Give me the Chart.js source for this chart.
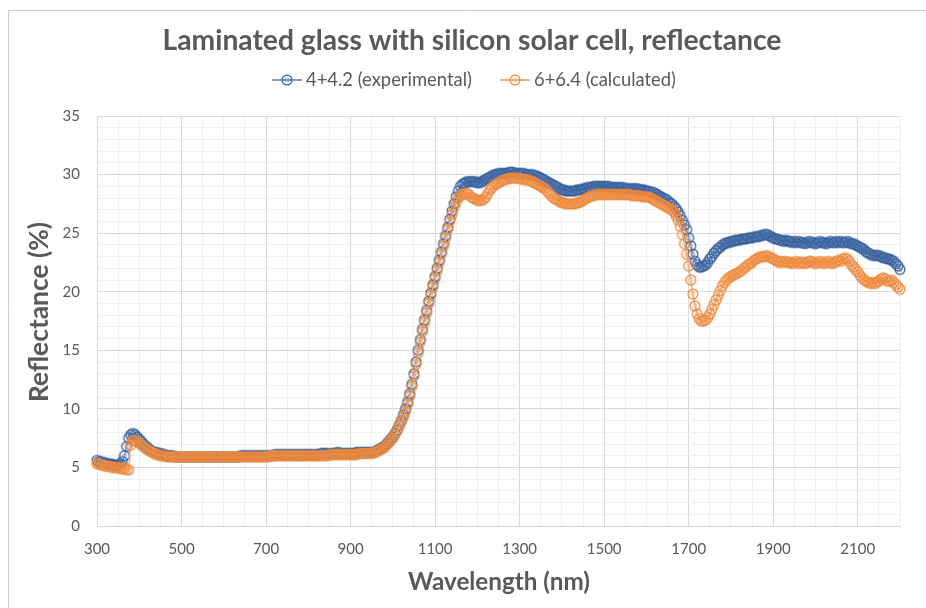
<!DOCTYPE html>
<html><head><meta charset="utf-8">
<script src="https://cdn.jsdelivr.net/npm/chart.js@4.4.1/dist/chart.umd.min.js"></script>
<style>html,body{margin:0;padding:0;background:#fff;}#wrap{width:926px;height:608px;}</style>
</head><body><div id="wrap"><canvas id="c" width="926" height="608"></canvas></div>
<script>
const chartTitle = 'Laminated glass with silicon solar cell, reflectance';
const xAxisTitle = 'Wavelength (nm)';
const yAxisTitle = 'Reflectance (%)';
const seriesNames = ['4+4.2 (experimental)', '6+6.4 (calculated)'];
const xTickLabels = [300, 500, 700, 900, 1100, 1300, 1500, 1700, 1900, 2100];
const yTickLabels = [0, 5, 10, 15, 20, 25, 30, 35];

const wavelengths = [
300,305,310,315,320,325,330,335,340,345,350,355,360,365,370,375,380,385,390,395,
400,405,410,415,420,425,430,435,440,445,450,455,460,465,470,475,480,485,490,495,
500,505,510,515,520,525,530,535,540,545,550,555,560,565,570,575,580,585,590,595,
600,605,610,615,620,625,630,635,640,645,650,655,660,665,670,675,680,685,690,695,
700,705,710,715,720,725,730,735,740,745,750,755,760,765,770,775,780,785,790,795,
800,805,810,815,820,825,830,835,840,845,850,855,860,865,870,875,880,885,890,895,
900,905,910,915,920,925,930,935,940,945,950,955,960,965,970,975,980,985,990,995,
1000,1005,1010,1015,1020,1025,1030,1035,1040,1045,1050,1055,1060,1065,1070,1075,1080,1085,1090,1095,
1100,1105,1110,1115,1120,1125,1130,1135,1140,1145,1150,1155,1160,1165,1170,1175,1180,1185,1190,1195,
1200,1205,1210,1215,1220,1225,1230,1235,1240,1245,1250,1255,1260,1265,1270,1275,1280,1285,1290,1295,
1300,1305,1310,1315,1320,1325,1330,1335,1340,1345,1350,1355,1360,1365,1370,1375,1380,1385,1390,1395,
1400,1405,1410,1415,1420,1425,1430,1435,1440,1445,1450,1455,1460,1465,1470,1475,1480,1485,1490,1495,
1500,1505,1510,1515,1520,1525,1530,1535,1540,1545,1550,1555,1560,1565,1570,1575,1580,1585,1590,1595,
1600,1605,1610,1615,1620,1625,1630,1635,1640,1645,1650,1655,1660,1665,1670,1675,1680,1685,1690,1695,
1700,1705,1710,1715,1720,1725,1730,1735,1740,1745,1750,1755,1760,1765,1770,1775,1780,1785,1790,1795,
1800,1805,1810,1815,1820,1825,1830,1835,1840,1845,1850,1855,1860,1865,1870,1875,1880,1885,1890,1895,
1900,1905,1910,1915,1920,1925,1930,1935,1940,1945,1950,1955,1960,1965,1970,1975,1980,1985,1990,1995,
2000,2005,2010,2015,2020,2025,2030,2035,2040,2045,2050,2055,2060,2065,2070,2075,2080,2085,2090,2095,
2100,2105,2110,2115,2120,2125,2130,2135,2140,2145,2150,2155,2160,2165,2170,2175,2180,2185,2190,2195,
2200];

const experimental = [
5.6,5.5,5.5,5.4,5.4,5.3,5.3,5.3,5.2,5.2,5.2,5.3,5.5,6.0,6.8,7.5,7.8,7.9,7.8,7.6,
7.4,7.2,7.0,6.8,6.7,6.5,6.4,6.3,6.3,6.2,6.2,6.1,6.1,6.0,6.0,6.0,6.0,5.9,5.9,5.9,
5.9,5.9,5.9,5.9,5.9,5.9,5.9,5.9,5.9,5.9,5.9,5.9,5.9,5.9,5.9,5.9,5.9,5.9,5.9,5.9,
5.9,5.9,5.9,5.9,5.9,5.9,5.9,5.9,6.0,6.0,6.0,6.0,6.0,6.0,6.0,6.0,6.0,6.0,6.0,6.0,
6.0,6.0,6.0,6.0,6.1,6.1,6.1,6.1,6.1,6.1,6.1,6.1,6.1,6.1,6.1,6.1,6.1,6.1,6.1,6.1,
6.1,6.1,6.1,6.1,6.1,6.1,6.2,6.2,6.2,6.2,6.1,6.2,6.2,6.2,6.3,6.2,6.2,6.2,6.2,6.2,
6.2,6.2,6.2,6.3,6.3,6.3,6.3,6.3,6.3,6.3,6.3,6.3,6.4,6.5,6.6,6.7,6.8,7.0,7.2,7.4,
7.6,7.9,8.2,8.6,9.0,9.5,10.0,10.6,11.3,12.1,13.0,14.0,15.0,15.9,16.8,17.6,18.4,19.2,19.9,20.6,
21.3,22.0,22.7,23.4,24.1,24.8,25.5,26.2,26.9,27.5,28.1,28.6,29.0,29.2,29.3,29.4,29.4,29.4,29.4,29.4,
29.3,29.3,29.4,29.5,29.6,29.7,29.8,29.9,30.0,30.0,30.1,30.1,30.1,30.1,30.1,30.2,30.2,30.2,30.1,30.1,
30.1,30.1,30.1,30.0,30.0,30.0,30.0,29.9,29.9,29.8,29.7,29.6,29.5,29.4,29.3,29.2,29.1,29.0,28.9,28.8,
28.7,28.7,28.6,28.6,28.6,28.6,28.6,28.7,28.7,28.7,28.8,28.8,28.9,28.9,28.9,29.0,29.0,29.0,29.0,29.0,
29.0,29.0,29.0,28.9,28.9,28.9,28.9,28.9,28.9,28.9,28.8,28.8,28.8,28.8,28.8,28.8,28.8,28.7,28.7,28.7,
28.6,28.6,28.5,28.5,28.4,28.3,28.2,28.1,28.0,27.9,27.8,27.6,27.5,27.3,27.1,26.8,26.5,26.1,25.7,25.3,
24.6,23.9,23.2,22.6,22.3,22.1,22.1,22.2,22.3,22.5,22.8,23.0,23.3,23.5,23.7,23.8,24.0,24.1,24.2,24.2,
24.3,24.3,24.4,24.4,24.4,24.5,24.5,24.5,24.6,24.6,24.6,24.7,24.7,24.7,24.8,24.8,24.9,24.9,24.8,24.7,
24.6,24.5,24.5,24.4,24.4,24.3,24.4,24.3,24.3,24.2,24.3,24.2,24.3,24.2,24.2,24.1,24.2,24.3,24.2,24.2,
24.1,24.2,24.3,24.2,24.2,24.1,24.2,24.3,24.2,24.2,24.3,24.2,24.3,24.2,24.2,24.3,24.2,24.1,24.1,24.0,
23.9,23.8,23.7,23.6,23.4,23.3,23.2,23.1,23.1,23.1,23.1,23.0,22.9,22.9,22.8,22.8,22.7,22.6,22.4,22.2,
21.9];

const calculated = [
5.3,5.3,5.2,5.2,5.1,5.1,5.1,5.0,5.0,5.0,5.0,4.9,4.9,4.9,4.8,4.8,6.9,7.3,7.3,7.2,
7.1,6.9,6.8,6.6,6.5,6.4,6.3,6.2,6.1,6.1,6.0,6.0,6.0,5.9,5.9,5.9,5.9,5.9,5.9,5.9,
5.9,5.9,5.9,5.9,5.9,5.9,5.9,5.9,5.9,5.9,5.9,5.9,5.9,5.9,5.9,5.9,5.9,5.9,5.9,5.9,
5.9,5.9,5.9,5.9,5.9,5.9,5.9,5.9,5.9,5.9,5.9,5.9,5.9,5.9,5.9,5.9,5.9,5.9,5.9,5.9,
5.9,5.9,6.0,6.0,6.0,6.0,6.0,6.0,6.0,6.0,6.0,6.0,6.0,6.0,6.0,6.0,6.0,6.0,6.0,6.0,
6.0,6.0,6.0,6.0,6.0,6.0,6.0,6.0,6.0,6.0,6.1,6.1,6.1,6.1,6.1,6.1,6.1,6.1,6.1,6.1,
6.1,6.1,6.1,6.1,6.2,6.2,6.2,6.2,6.2,6.2,6.2,6.3,6.3,6.4,6.5,6.6,6.7,6.9,7.1,7.3,
7.5,7.8,8.1,8.5,8.9,9.3,9.8,10.4,11.1,11.9,12.8,13.8,14.8,15.7,16.6,17.4,18.2,19.0,19.7,20.4,
21.1,21.8,22.5,23.2,23.9,24.6,25.3,26.0,26.6,27.2,27.6,28.0,28.2,28.3,28.4,28.4,28.3,28.1,28.0,27.9,
27.8,27.8,27.8,27.9,28.1,28.4,28.7,28.9,29.1,29.2,29.3,29.4,29.5,29.6,29.6,29.7,29.7,29.7,29.7,29.7,
29.7,29.6,29.6,29.6,29.5,29.5,29.4,29.3,29.2,29.1,29.0,28.9,28.8,28.6,28.4,28.2,28.0,27.9,27.8,27.7,
27.6,27.6,27.5,27.5,27.5,27.5,27.5,27.6,27.6,27.7,27.8,27.9,28.0,28.1,28.2,28.2,28.3,28.3,28.3,28.3,
28.3,28.3,28.3,28.3,28.3,28.3,28.3,28.3,28.3,28.3,28.3,28.3,28.3,28.2,28.2,28.2,28.2,28.2,28.1,28.1,
28.1,28.1,28.0,27.9,27.8,27.7,27.6,27.5,27.4,27.3,27.2,27.1,27.0,26.8,26.5,26.1,25.6,24.9,24.1,23.2,
22.2,21.0,19.8,18.8,18.1,17.7,17.5,17.5,17.6,17.8,18.1,18.5,18.9,19.3,19.7,20.1,20.5,20.8,21.0,21.2,
21.3,21.4,21.5,21.6,21.7,21.8,22.0,22.1,22.3,22.4,22.5,22.7,22.8,22.9,23.0,23.0,23.0,23.1,23.0,22.9,
22.8,22.7,22.6,22.5,22.6,22.5,22.6,22.5,22.5,22.4,22.5,22.6,22.4,22.5,22.5,22.4,22.5,22.6,22.6,22.5,
22.4,22.5,22.6,22.5,22.4,22.5,22.6,22.5,22.4,22.5,22.6,22.7,22.6,22.8,22.9,22.8,22.6,22.3,22.1,21.9,
21.7,21.4,21.2,21.0,20.9,20.8,20.7,20.8,20.7,20.8,20.9,21.1,21.2,21.1,20.9,20.9,21.0,20.8,20.6,20.4,
20.2];

const FONT = 'Lato, "Open Sans", sans-serif';
const TEXT = '#595959';
const BLUE = '#36609E';
const BLUE_LINE = '#7E9ED3';
const ORANGE = '#EE8A3E';
const ORANGE_LINE = '#F6B27E';

function makeMarker(color) {
  const c = document.createElement('canvas');
  c.width = 14; c.height = 14;
  const g = c.getContext('2d');
  g.strokeStyle = color; g.lineWidth = 1.25;
  g.beginPath(); g.arc(7, 7, 4.9, 0, Math.PI * 2); g.stroke();
  g.globalAlpha = 0.55; g.lineWidth = 0.9;
  g.beginPath(); g.arc(7, 7, 2.1, 0, Math.PI * 2); g.stroke();
  return c;
}
const blueMarker = makeMarker(BLUE);
const orangeMarker = makeMarker(ORANGE);

function fitFont(ctx, text, weight, target) {
  ctx.font = `${weight} 20px ${FONT}`;
  const w = ctx.measureText(text).width;
  return `${weight} ${(20 * target / w).toFixed(2)}px ${FONT}`;
}

const decor = {
  id: 'decor',
  afterDraw(chart) {
    const ctx = chart.ctx;
    ctx.save();
    ctx.strokeStyle = '#D0D0D0'; ctx.lineWidth = 1;
    ctx.beginPath(); ctx.moveTo(8.5, 700); ctx.lineTo(8.5, 10.5); ctx.lineTo(1000, 10.5); ctx.stroke();
    ctx.fillStyle = TEXT;
    ctx.textBaseline = 'alphabetic';
    ctx.textAlign = 'center';
    ctx.font = fitFont(ctx, chartTitle, 'bold', 619);
    ctx.fillText(chartTitle, 472, 50);
    ctx.font = fitFont(ctx, xAxisTitle, 'bold', 182);
    ctx.fillText(xAxisTitle, 499, 590);
    ctx.save();
    ctx.translate(48, 312); ctx.rotate(-Math.PI / 2);
    ctx.font = fitFont(ctx, yAxisTitle, 'bold', 180);
    ctx.fillText(yAxisTitle, 0, 0);
    ctx.restore();
    const items = [
      {x: 272, text: seriesNames[0], w: 166, line: BLUE_LINE, marker: blueMarker},
      {x: 500, text: seriesNames[1], w: 142, line: ORANGE_LINE, marker: orangeMarker}
    ];
    const ly = 80;
    items.forEach(it => {
      ctx.strokeStyle = it.line; ctx.lineWidth = 2;
      ctx.beginPath(); ctx.moveTo(it.x, ly); ctx.lineTo(it.x + 30, ly); ctx.stroke();
      ctx.drawImage(it.marker, it.x + 15 - 7, ly - 7);
      ctx.fillStyle = TEXT; ctx.textAlign = 'left';
      ctx.font = fitFont(ctx, it.text, 'normal', it.w);
      ctx.fillText(it.text, it.x + 34, 86);
    });
    ctx.restore();
  }
};

const ctx = document.getElementById('c').getContext('2d');
new Chart(ctx, {
  type: 'line',
  data: {
    datasets: [
      {
        label: seriesNames[0],
        data: wavelengths.map((w, i) => ({x: w, y: experimental[i]})),
        borderColor: BLUE_LINE, borderWidth: 1.5,
        pointStyle: blueMarker, pointRadius: 5,
        clip: false, order: 1, tension: 0
      },
      {
        label: seriesNames[1],
        data: wavelengths.map((w, i) => ({x: w, y: calculated[i]})),
        borderColor: ORANGE_LINE, borderWidth: 1.5,
        pointStyle: orangeMarker, pointRadius: 5,
        clip: false, order: 0, tension: 0
      }
    ]
  },
  options: {
    responsive: false,
    animation: false,
    devicePixelRatio: 1,
    layout: {padding: {left: 0, top: 116, right: 26, bottom: 0}},
    plugins: {legend: {display: false}, title: {display: false}, tooltip: {enabled: false}},
    scales: {
      x: {
        type: 'linear', min: 300, max: 2200,
        afterFit(s) { s.height = 82; },
        ticks: {
          stepSize: 50, autoSkip: false, maxRotation: 0, minRotation: 0,
          color: TEXT, font: {family: FONT, size: 15}, padding: 14,
          callback: v => xTickLabels.includes(v) ? String(v) : ''
        },
        grid: {
          drawTicks: false, lineWidth: 1,
          color: c => ((c.tick.value - 300) % 200 === 0) ? '#D9D9D9' : '#F0F0F0'
        },
        border: {color: '#D9D9D9'}
      },
      y: {
        min: 0, max: 35,
        afterFit(s) { s.width = 97; },
        ticks: {
          stepSize: 1, autoSkip: false,
          color: TEXT, font: {family: FONT, size: 15}, padding: 17,
          callback: v => yTickLabels.includes(v) ? String(v) : ''
        },
        grid: {
          drawTicks: false, lineWidth: 1,
          color: c => (c.tick.value % 5 === 0) ? '#D9D9D9' : '#F0F0F0'
        },
        border: {color: '#D9D9D9'}
      }
    }
  },
  plugins: [decor]
});
</script></body></html>
